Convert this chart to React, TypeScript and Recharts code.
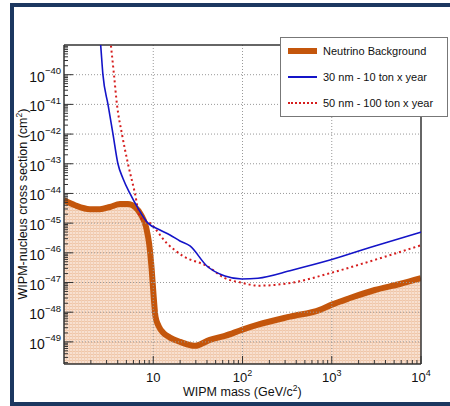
import { ComposedChart, Area, Line, XAxis, YAxis, ReferenceLine } from "recharts";

// neutrino floor
const nuMass = [1, 1.33, 1.95, 2.53, 3.27, 4.24, 5.2, 6.24, 7.3, 8.3, 9.0, 9.6, 10.1, 10.6, 11.5, 13, 15.4, 20, 29.3, 43, 63.5, 100, 149, 340, 736, 1000, 1600, 3040, 5790, 10000];
const nuSigma = [5.9e-45, 4.0e-45, 2.95e-45, 2.95e-45, 3.5e-45, 4.4e-45, 4.4e-45, 3.5e-45, 1.9e-45, 7.5e-46, 2.0e-46, 2.8e-47, 3.5e-48, 7.0e-49, 3.4e-49, 2.0e-49, 1.4e-49, 1.0e-49, 7.4e-50, 1.17e-49, 1.6e-49, 2.6e-49, 3.8e-49, 7.1e-49, 1.2e-48, 1.8e-48, 3.0e-48, 5.6e-48, 8.9e-48, 1.4e-47];

// 30 nm - 10 ton x year
const m30Mass = [2.5, 2.58, 2.73, 3.11, 3.54, 4.02, 4.58, 5.48, 6.74, 8.73, 11.9, 15.4, 19.9, 25.8, 39.9, 63.5, 98.5, 149, 357, 977, 3040, 10000];
const m30Sigma = [3e-39, 9.3e-40, 1e-40, 1e-41, 1e-42, 1e-43, 3.2e-44, 1e-44, 3.2e-45, 1e-45, 5.9e-46, 4.0e-46, 2.5e-46, 1.7e-46, 3.6e-47, 1.66e-47, 1.32e-47, 1.4e-47, 2.6e-47, 5.8e-47, 1.7e-46, 5e-46];

// 50 nm - 100 ton x year
const m50Mass = [3.22, 3.36, 3.63, 3.92, 4.46, 5.21, 6.24, 7.1, 9.19, 14.2, 21.5, 39.9, 63.5, 98.5, 149, 231, 357, 977, 3040, 10000];
const m50Sigma = [3e-39, 9.3e-40, 1e-40, 1e-41, 1e-42, 1e-43, 1e-44, 1.6e-45, 1e-45, 2.1e-46, 7.8e-47, 3.6e-47, 1.4e-47, 9.8e-48, 7.8e-48, 8.3e-48, 9.8e-48, 2.1e-47, 5.8e-47, 1.8e-46];

const xDomain = [1, 10000];
const yDomain = [1.8e-50, 1e-39];
const xMajor = [10, 100, 1000, 10000];
const yMajor = [1e-49, 1e-48, 1e-47, 1e-46, 1e-45, 1e-44, 1e-43, 1e-42, 1e-41, 1e-40];
const minorSteps = [2, 3, 4, 5, 6, 7, 8, 9];

const xTicks = [1, 10, 100, 1000].flatMap((d) => minorSteps.map((s) => s * d)).concat(xMajor);
const yTicks = [-50, -49, -48, -47, -46, -45, -44, -43, -42, -41, -40]
  .flatMap((e) => minorSteps.map((s) => s * Math.pow(10, e)))
  .filter((v) => v > yDomain[0] && v < yDomain[1])
  .concat(yMajor);

const nuData = nuMass.map((m, i) => ({ mass: m, sigma: nuSigma[i] }));
const m30Data = m30Mass.map((m, i) => ({ mass: m, sigma: m30Sigma[i] }));
const m50Data = m50Mass.map((m, i) => ({ mass: m, sigma: m50Sigma[i] }));

const FONT = "'Liberation Sans', Arial, sans-serif";
const AXIS = "#333";
const GRID = "#999";
const ORANGE = "#c4560c";
const BLUE = "#1414c8";
const RED = "#d61e1e";

const isDecade = (v: number) => Math.abs(Math.log10(v) - Math.round(Math.log10(v))) < 1e-6;

function XTick(props: any) {
  const { x, y, payload } = props;
  const v = payload.value;
  const major = isDecade(v);
  const exp = Math.round(Math.log10(v));
  return (
    <g>
      <line x1={x} x2={x} y1={y} y2={y - (major ? 8 : 4)} stroke={AXIS} strokeWidth={1} />
      {major && (
        <text x={x} y={y + 18} textAnchor="middle" fontSize={13} fill="#111" fontFamily={FONT}>
          10
          {exp > 1 && (
            <tspan dy={-6} fontSize={9}>
              {exp}
            </tspan>
          )}
        </text>
      )}
    </g>
  );
}

function YTick(props: any) {
  const { x, y, payload } = props;
  const v = payload.value;
  const major = isDecade(v);
  const exp = Math.round(Math.log10(v));
  return (
    <g>
      <line x1={x} x2={x + (major ? 9 : 4)} y1={y} y2={y} stroke={AXIS} strokeWidth={1} />
      {major && (
        <text x={x - 3} y={y + 7} textAnchor="end" fontSize={14} fill="#111" fontFamily={FONT}>
          10
          <tspan dy={-7.5} fontSize={9.5}>
            {"\u2212" + Math.abs(exp)}
          </tspan>
        </text>
      )}
    </g>
  );
}

function LegendRow({ top, sample, label }: { top: number; sample: any; label: string }) {
  return (
    <div style={{ position: "absolute", left: 0, top, display: "flex", alignItems: "center", height: 14 }}>
      <div style={{ width: 29, marginLeft: 7, ...sample }} />
      <span style={{ marginLeft: 6, fontSize: 11, color: "#111", whiteSpace: "nowrap" }}>{label}</span>
    </div>
  );
}

export default function App() {
  return (
    <div style={{ position: "fixed", left: 0, top: 0, width: 450, height: 406, overflow: "hidden", background: "#fff", fontFamily: FONT }}>
      <div
        style={{
          position: "absolute",
          left: 10,
          top: 3,
          width: 450,
          height: 403,
          boxSizing: "border-box",
          borderTop: "4px solid #1c3760",
          borderLeft: "4px solid #1c3760",
          borderBottom: "4px solid #1c3760",
        }}
      />
      <div style={{ position: "absolute", left: 0, top: 0 }}>
        <ComposedChart width={450} height={406} margin={{ top: 45, right: 29, bottom: 0, left: 14 }}>
          <defs>
            <pattern id="nuFill" width="3" height="3" patternUnits="userSpaceOnUse">
              <rect width="3" height="3" fill="#f8e0d0" />
              <rect width="3" height="1" fill="#efc6a9" />
              <rect width="1" height="3" fill="#f2cfb6" />
            </pattern>
          </defs>
          <XAxis
            dataKey="mass"
            type="number"
            scale="log"
            domain={xDomain}
            allowDataOverflow
            ticks={xTicks}
            interval={0}
            height={42}
            tickSize={0}
            tickMargin={0}
            tickLine={false}
            tick={XTick}
            axisLine={{ stroke: AXIS, strokeWidth: 1.5 }}
          />
          <YAxis
            dataKey="sigma"
            type="number"
            scale="log"
            domain={yDomain}
            allowDataOverflow
            ticks={yTicks}
            interval={0}
            width={50}
            tickSize={0}
            tickMargin={0}
            tickLine={false}
            tick={YTick}
            axisLine={{ stroke: AXIS, strokeWidth: 1.5 }}
          />
          <Area
            data={nuData}
            dataKey="sigma"
            type="monotone"
            baseValue={yDomain[0]}
            stroke={ORANGE}
            strokeWidth={6}
            fill="url(#nuFill)"
            fillOpacity={1}
            isAnimationActive={false}
          />
          {xMajor.slice(0, 3).map((v) => (
            <ReferenceLine key={"gx" + v} x={v} stroke={GRID} strokeDasharray="1 2" strokeWidth={1} />
          ))}
          {yMajor.map((v) => (
            <ReferenceLine key={"gy" + v} y={v} stroke={GRID} strokeDasharray="1 2" strokeWidth={1} />
          ))}
          <ReferenceLine x={xDomain[1]} stroke={AXIS} strokeWidth={1.5} />
          <ReferenceLine y={yDomain[1]} stroke={AXIS} strokeWidth={1.5} />
          <Line data={m50Data} dataKey="sigma" type="monotone" stroke={RED} strokeWidth={2} strokeDasharray="2 3" dot={false} isAnimationActive={false} />
          <Line data={m30Data} dataKey="sigma" type="monotone" stroke={BLUE} strokeWidth={1.6} dot={false} isAnimationActive={false} />
        </ComposedChart>
      </div>
      <div style={{ position: "absolute", left: 183, top: 386, fontSize: 12.5, lineHeight: 1, color: "#111", whiteSpace: "nowrap" }}>
        WIPM mass (GeV/c<sup style={{ fontSize: 8.5, lineHeight: 0 }}>2</sup>)
      </div>
      <div
        style={{
          position: "absolute",
          left: 22,
          top: 204,
          transform: "translate(-50%, -50%) rotate(-90deg)",
          fontSize: 12.5,
          color: "#111",
          whiteSpace: "nowrap",
        }}
      >
        WIPM-nucleus cross section (cm<sup style={{ fontSize: 8.5 }}>2</sup>)
      </div>
      <div style={{ position: "absolute", left: 280, top: 37, width: 168, height: 80, boxSizing: "border-box", border: "1px solid #777", background: "#fff" }}>
        <LegendRow top={6} sample={{ height: 6, background: ORANGE }} label="Neutrino Background" />
        <LegendRow top={32} sample={{ height: 0, borderTop: `2px solid ${BLUE}` }} label="30 nm - 10 ton x year" />
        <LegendRow top={58} sample={{ height: 0, borderTop: `2px dotted ${RED}` }} label="50 nm - 100 ton x year" />
      </div>
    </div>
  );
}
